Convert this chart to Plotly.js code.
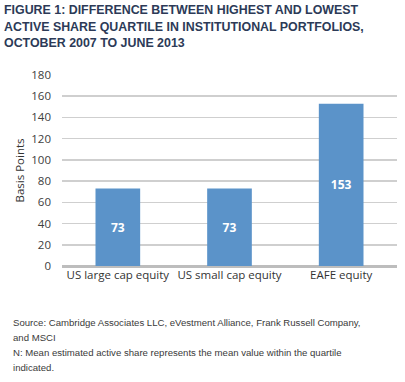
<!DOCTYPE html>
<html><head><meta charset="utf-8">
<script src="https://cdn.plot.ly/plotly-3.0.1.min.js"></script>
<style>html,body{margin:0;padding:0;background:#fff;}#chart{width:405px;height:382px;}</style>
</head><body><div id="chart"></div>
<script>
const categories = ["US large cap equity", "US small cap equity", "EAFE equity"];
const values = [73, 73, 153];
const yTicks = [0, 20, 40, 60, 80, 100, 120, 140, 160, 180];
const titleLines = ["FIGURE 1: DIFFERENCE BETWEEN HIGHEST AND LOWEST", "ACTIVE SHARE QUARTILE IN INSTITUTIONAL PORTFOLIOS,", "OCTOBER 2007 TO JUNE 2013"];
const noteLines = ["Source: Cambridge Associates LLC, eVestment Alliance, Frank Russell Company,", "and MSCI", "N: Mean estimated active share represents the mean value within the quartile", "indicated."];

const W = 405, H = 382, L = 62, R = 8, T = 75, B = 116;
const pw = W - L - R, ph = H - T - B;
const px = x => (x - L) / pw;
const py = y => (H - B - y) / ph;

const annotations = [];
titleLines.forEach((t, i) => annotations.push({
  text: '<b>' + t + '</b>', xref: 'paper', yref: 'paper', x: px(2), y: py(10 + i * 16.5),
  xanchor: 'left', yanchor: 'middle', showarrow: false,
  font: {family: '"Liberation Sans", Arial, sans-serif', size: 12.4, color: '#2C3A57'}
}));
noteLines.forEach((t, i) => annotations.push({
  text: t, xref: 'paper', yref: 'paper', x: px(11), y: py(322 + i * 15),
  xanchor: 'left', yanchor: 'middle', showarrow: false,
  font: {family: '"Liberation Sans", Arial, sans-serif', size: 9.6, color: '#3A3A3A'}
}));

const data = [{
  type: 'bar', x: categories, y: values,
  text: values.map(String), textposition: 'inside', insidetextanchor: 'middle',
  textfont: {family: '"Open Sans", sans-serif', size: 12, color: '#ffffff', weight: 'bold'},
  marker: {color: '#5B93C9'}, hoverinfo: 'none', cliponaxis: false
}];

const layout = {
  width: W, height: H, margin: {l: L, r: R, t: T, b: B},
  paper_bgcolor: '#ffffff', plot_bgcolor: '#ffffff',
  showlegend: false, bargap: 0.6,
  xaxis: {
    showgrid: false, showline: false, zeroline: false, ticks: '',
    tickfont: {family: '"Open Sans", sans-serif', size: 11.5, color: '#333333'}
  },
  yaxis: {
    range: [0, 180], tickvals: yTicks, ticktext: yTicks.map(String),
    showgrid: true, gridcolor: '#CFCFCF', gridwidth: 1.5,
    zeroline: true, zerolinecolor: '#BDBDBD', zerolinewidth: 3,
    showline: false, ticks: '', ticklabelstandoff: 10,
    tickfont: {family: '"Open Sans", sans-serif', size: 11.5, color: '#404040'},
    title: {text: 'Basis Points', standoff: 4, font: {family: '"Open Sans", sans-serif', size: 11.5, color: '#333333'}}
  },
  annotations: annotations
};
Plotly.newPlot('chart', data, layout, {displayModeBar: false, staticPlot: true});
</script></body></html>
